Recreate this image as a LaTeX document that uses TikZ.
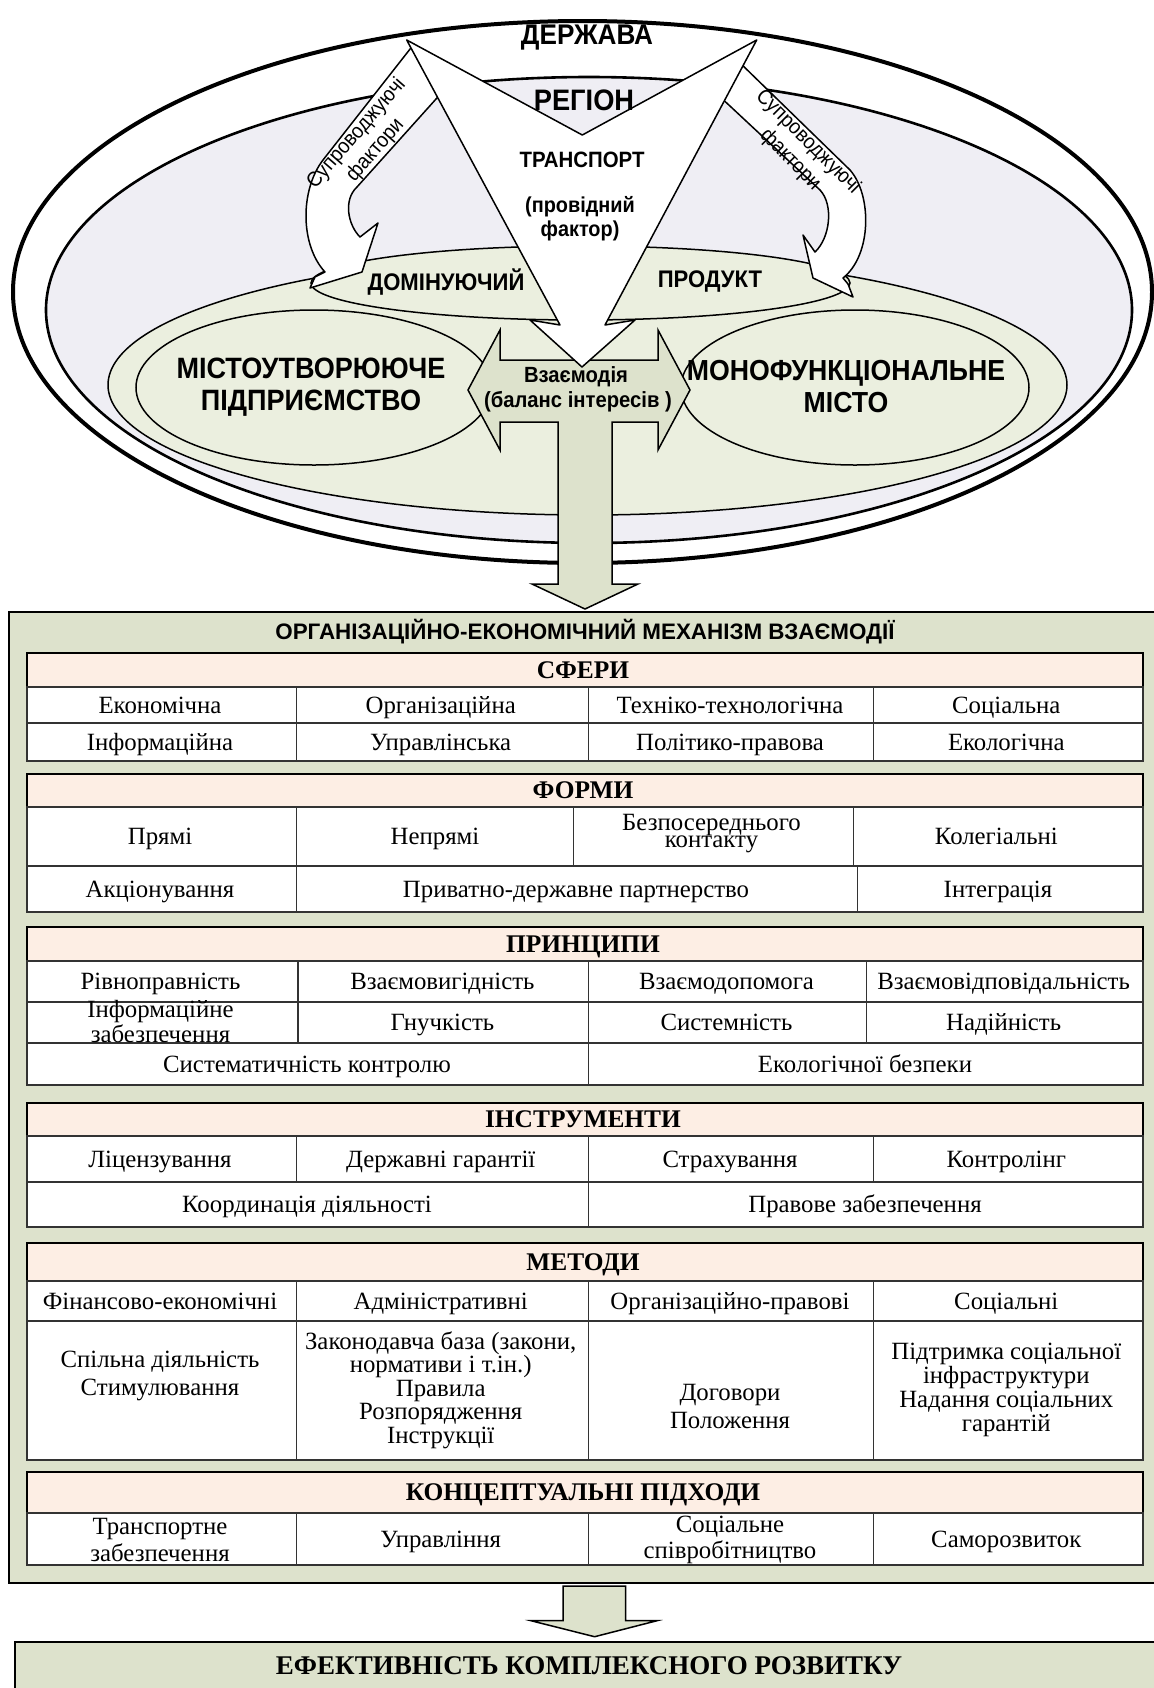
\documentclass[tikz,border=0pt]{standalone}
\usepackage{fontspec}
\setmainfont{Liberation Serif}
\newfontfamily\arialn[FakeStretch=0.92]{Liberation Sans}
\newfontfamily\arial{Liberation Sans}
\usetikzlibrary{positioning}

\definecolor{regfill}{HTML}{EFEEF4}
\definecolor{ellfill}{HTML}{EBEFDF}
\definecolor{boxfill}{HTML}{DDE2CC}
\definecolor{hdrfill}{HTML}{FDEEE4}

\newcommand{\fsz}[2]{\fontsize{#1}{#2}\selectfont}

\tikzset{
  shp/.style={fill=white, draw=black, line width=0.75pt, line join=round},
  ell/.style={fill=ellfill, draw=black, line width=0.75pt},
  blk/.style={fill=boxfill, draw=black, line width=0.75pt, line join=miter},
  hdr/.style={fill=hdrfill, draw=black, line width=1pt},
  rows/.style={fill=white, draw=black!80, line width=0.55pt},
  divider/.style={draw=black!80, line width=0.55pt},
  cell/.style={font=\fsz{12.4}{13}, inner sep=0pt, text height=8pt, text depth=0pt},
  mcell/.style={align=center, inner sep=0pt},
  hcell/.style={font=\bfseries\fsz{12.7}{13}, inner sep=0pt, text height=8.4pt, text depth=0pt},
  toptxt/.style={align=center, inner sep=0pt},
}

\begin{document}
\begin{tikzpicture}[x=0.5pt,y=-0.5pt]
  \useasboundingbox (0,0) rectangle (1154,1688);

  % держава, регіон
  \draw[fill=white, line width=2pt] (582.5,292) ellipse [x radius=569.5, y radius=271];
  \draw[fill=regfill, line width=1.3pt] (589,310) ellipse [x radius=543, y radius=233];
  \draw[ell] (587.5,385) ellipse [x radius=479.5, y radius=130];
  \draw[ell] (314,387.5) ellipse [x radius=178, y radius=77.5];
  \draw[ell] (855,387.5) ellipse [x radius=174, y radius=77.5];
  \draw[ell] (580.5,283) ellipse [x radius=269.5, y radius=37];

  % супроводжуючі фактори
  \draw[shp] (414,44) -- (323,160)
    .. controls (300,190) and (300,245) .. (325,272)
    -- (315,277) -- (310,288) -- (362,272) -- (378,223) -- (360,237)
    .. controls (348,225) and (343,200) .. (357,187) -- (445,89) -- cycle;
  \draw[shp] (736,59) -- (850,170)
    .. controls (872,195) and (872,255) .. (843,278)
    -- (848,284) -- (853,297) -- (813,278) -- (803,235) -- (815,252)
    .. controls (830,238) and (834,205) .. (820,190) -- (716,93) -- cycle;
  \node[toptxt, font=\arialn\fsz{10.5}{12.5}, rotate=49] (suprl) at (366,142) {Супроводжуючі\\фактори};
  \node[toptxt, font=\arialn\fsz{10.5}{12.5}, rotate=-45] (suprr) at (799,151) {Супроводжуючі\\фактори};

  % взаємодія
  \draw[blk] (468,390) -- (500,330) -- (500,360) -- (658,360) -- (658,330) -- (690,390)
    -- (658,450) -- (658,422) -- (612,422) -- (612,584) -- (638,584) -- (585,609)
    -- (532,584) -- (558,584) -- (558,422) -- (500,422) -- (500,450) -- cycle;

  % транспорт
  \draw[shp] (406.7,40) -- (582.3,135) -- (756.7,40) -- (605,325) -- (635,320)
    -- (582,367) -- (530,320) -- (560,325) -- cycle;

  \node[toptxt, font=\arialn\bfseries\fsz{14.2}{15}] (derzh) at (587,38) {ДЕРЖАВА};
  \node[toptxt, font=\arialn\bfseries\fsz{14.8}{15}] (region) at (584,100) {РЕГІОН};
  \node[toptxt, font=\arialn\bfseries\fsz{11.1}{12}] (transp) at (582,160) {ТРАНСПОРТ};
  \node[toptxt, font=\arialn\bfseries\fsz{10.8}{12}] (provid) at (580,219) {(провідний\\фактор)};
  \node[toptxt, font=\arialn\bfseries\fsz{12}{12}] (domin) at (446,282) {ДОМІНУЮЧИЙ};
  \node[toptxt, font=\arialn\bfseries\fsz{12}{12}] (produkt) at (710,282) {ПРОДУКТ};
  \node[toptxt, font=\arialn\bfseries\fsz{14.7}{16}] (pidpr) at (311,387) {МІСТОУТВОРЮЮЧЕ\\ПІДПРИЄМСТВО};
  \node[toptxt, font=\arialn\bfseries\fsz{14.5}{16}] (misto) at (846,387) {МОНОФУНКЦІОНАЛЬНЕ\\МІСТО};
  \node[toptxt, font=\arialn\bfseries\fsz{11}{12}] (vzaem) at (576,377) {Взаємодія};
  \node[toptxt, font=\arialn\bfseries\fsz{11}{12}] (balans) at (578,402) {(баланс інтересів )};

  % механізм
  \draw[fill=boxfill, line width=1pt] (9,612) rectangle (1170,1583);
  \node[toptxt, font=\arial\bfseries\fsz{11.2}{12}] (mech) at (585,632) {ОРГАНІЗАЦІЙНО-ЕКОНОМІЧНИЙ МЕХАНІЗМ ВЗАЄМОДІЇ};

  % сфери
  \draw[hdr] (27,653) rectangle (1143,687);
  \node[hcell] (sfery) at (583,670) {СФЕРИ};
  \draw[rows] (27,687) rectangle (1143,761);
  \draw[divider] (27,723) -- (1143,723);
  \foreach \x in {296.6,588.8,873.6}
    \draw[divider] (\x,687) -- (\x,761);
  \node[cell] (s11) at (160,705) {Економічна};
  \node[cell] (s12) at (440.7,705) {Організаційна};
  \node[cell] (s13) at (730,705) {Техніко-технологічна};
  \node[cell] (s14) at (1006.3,705) {Соціальна};
  \node[cell] (s21) at (160,742) {Інформаційна};
  \node[cell] (s22) at (440.7,742) {Управлінська};
  \node[cell] (s23) at (730,742) {Політико-правова};
  \node[cell] (s24) at (1006.3,742) {Екологічна};

  % форми
  \draw[hdr] (27,774) rectangle (1143,807);
  \node[hcell] (formy) at (583,790.5) {ФОРМИ};
  \draw[rows] (27,807) rectangle (1143,912);
  \draw[divider] (27,866) -- (1143,866);
  \foreach \x in {296.6,573.3,853.7}
    \draw[divider] (\x,807) -- (\x,866);
  \foreach \x in {296.6,857.4}
    \draw[divider] (\x,866) -- (\x,912);
  \node[cell] (f11) at (160,836.5) {Прямі};
  \node[cell] (f12) at (435,836.5) {Непрямі};
  \node[mcell, font=\fsz{12.4}{8.5}] (f13) at (711.5,834) {Безпосереднього\\контакту};
  \node[cell] (f14) at (996.4,836.5) {Колегіальні};
  \node[cell] (f21) at (160,889) {Акціонування};
  \node[cell] (f22) at (576,889) {Приватно-державне партнерство};
  \node[cell] (f23) at (998,889) {Інтеграція};

  % принципи
  \draw[hdr] (27,927) rectangle (1143,961);
  \node[hcell] (pryn) at (583,944) {ПРИНЦИПИ};
  \draw[rows] (27,961) rectangle (1143,1085);
  \draw[divider] (27,1002) -- (1143,1002);
  \draw[divider] (27,1043) -- (1143,1043);
  \foreach \x in {298,588.8,866.2}
    \draw[divider] (\x,961) -- (\x,1043);
  \draw[divider] (588.8,1043) -- (588.8,1085);
  \node[cell] (p11) at (160.5,981.5) {Рівноправність};
  \node[cell] (p12) at (442.4,981.5) {Взаємовигідність};
  \node[cell] (p13) at (726.5,981.5) {Взаємодопомога};
  \node[cell] (p14) at (1003.6,981.5) {Взаємовідповідальність};
  \node[mcell, font=\fsz{12.4}{10.5}] (p21) at (160.5,1021.5) {Інформаційне\\забезпечення};
  \node[cell] (p22) at (442.4,1022.5) {Гнучкість};
  \node[cell] (p23) at (726.5,1022.5) {Системність};
  \node[cell] (p24) at (1003.6,1022.5) {Надійність};
  \node[cell] (p31) at (307,1064) {Систематичність контролю};
  \node[cell] (p32) at (865,1064) {Екологічної безпеки};

  % інструменти
  \draw[hdr] (27,1103) rectangle (1143,1136);
  \node[hcell] (instr) at (583,1119.5) {ІНСТРУМЕНТИ};
  \draw[rows] (27,1136) rectangle (1143,1227);
  \draw[divider] (27,1182) -- (1143,1182);
  \foreach \x in {296.6,588.8,873.6}
    \draw[divider] (\x,1136) -- (\x,1182);
  \draw[divider] (588.8,1182) -- (588.8,1227);
  \node[cell] (i11) at (160,1159) {Ліцензування};
  \node[cell] (i12) at (440.7,1159) {Державні гарантії};
  \node[cell] (i13) at (730,1159) {Страхування};
  \node[cell] (i14) at (1006.3,1159) {Контролінг};
  \node[cell] (i21) at (307,1204.5) {Координація діяльності};
  \node[cell] (i22) at (865,1204.5) {Правове забезпечення};

  % методи
  \draw[hdr] (27,1243) rectangle (1143,1281);
  \node[hcell] (metody) at (583,1262) {МЕТОДИ};
  \draw[rows] (27,1281) rectangle (1143,1460);
  \draw[divider] (27,1321) -- (1143,1321);
  \foreach \x in {296.6,588.8,873.6}
    \draw[divider] (\x,1281) -- (\x,1460);
  \node[cell] (m11) at (160,1301) {Фінансово-економічні};
  \node[cell] (m12) at (440.7,1301) {Адміністративні};
  \node[cell] (m13) at (730,1301) {Організаційно-правові};
  \node[cell] (m14) at (1006.3,1301) {Соціальні};
  \node[mcell, font=\fsz{12.4}{14}] (m21) at (160,1376) {Спільна діяльність\\Стимулювання};
  \node[mcell, font=\fsz{12.4}{11.7}] (m22) at (440.7,1390) {Законодавча база (закони,\\нормативи і т.ін.)\\Правила\\Розпорядження\\Інструкції};
  \node[mcell, font=\fsz{12.4}{14}] (m23) at (730,1406) {Договори\\Положення};
  \node[mcell, font=\fsz{12.4}{12}] (m24) at (1006.3,1389.5) {Підтримка соціальної\\інфраструктури\\Надання соціальних\\гарантій};

  % концептуальні підходи
  \draw[hdr] (27,1472) rectangle (1143,1513);
  \node[hcell] (konc) at (583,1492.5) {КОНЦЕПТУАЛЬНІ ПІДХОДИ};
  \draw[rows] (27,1513) rectangle (1143,1565);
  \foreach \x in {296.6,588.8,873.6}
    \draw[divider] (\x,1513) -- (\x,1565);
  \node[mcell, font=\fsz{12.4}{13.3}] (k1) at (160,1540) {Транспортне\\забезпечення};
  \node[cell] (k2) at (440.7,1539) {Управління};
  \node[mcell, font=\fsz{12.4}{13.3}] (k3) at (730,1540) {Соціальне\\співробітництво};
  \node[cell] (k4) at (1006.3,1539) {Саморозвиток};

  % ефективність
  \draw[blk] (563,1586) -- (625.5,1586) -- (625.5,1620.7) -- (657,1620.7)
    -- (594.6,1636.7) -- (531,1620.7) -- (563,1620.7) -- cycle;
  \draw[fill=boxfill, line width=1pt] (14.7,1641.7) rectangle (1170,1700);
  \node[font=\bfseries\fsz{13.5}{14}, inner sep=0pt, text height=9pt, text depth=0pt] (efekt) at (589,1665) {ЕФЕКТИВНІСТЬ КОМПЛЕКСНОГО РОЗВИТКУ};
\end{tikzpicture}
\end{document}
